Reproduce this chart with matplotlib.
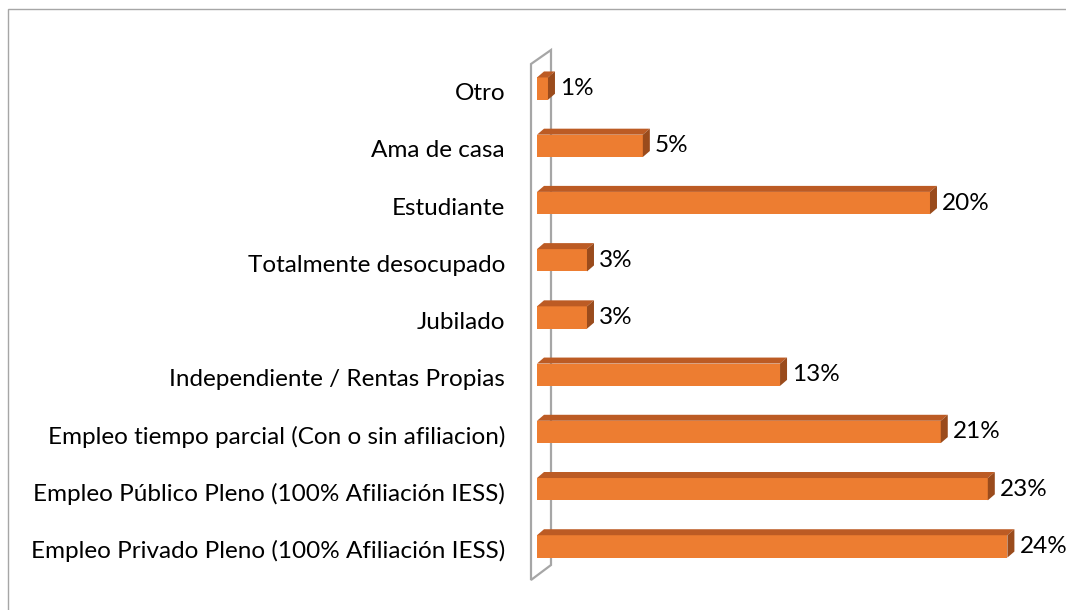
import matplotlib
matplotlib.use("Agg")
import matplotlib.pyplot as plt
from matplotlib.patches import Polygon, Rectangle

# categories from bottom to top
categories = [
    "Empleo Privado Pleno (100% Afiliación IESS)",
    "Empleo Público Pleno (100% Afiliación IESS)",
    "Empleo tiempo parcial (Con o sin afiliacion)",
    "Independiente / Rentas Propias",
    "Jubilado",
    "Totalmente desocupado",
    "Estudiante",
    "Ama de casa",
    "Otro",
]
values = [24.0, 23.0, 20.6, 12.4, 2.55, 2.55, 20.05, 5.4, 0.56]
value_labels = ["24%", "23%", "21%", "13%", "3%", "3%", "20%", "5%", "1%"]

W, H = 1066, 610
fig = plt.figure(figsize=(W / 100, H / 100), dpi=100)
plt.rcParams['font.family'] = ['Lato', 'DejaVu Sans']

# axes placed in pixels
ax_left, ax_right = 537, 1066
ax_bottom, ax_top = 35, 550
ax = fig.add_axes([ax_left / W, ax_bottom / H, (ax_right - ax_left) / W, (ax_top - ax_bottom) / H])
px_per_pct = 19.6
xmax = (ax_right - ax_left) / px_per_pct
ax.set_xlim(0, xmax)
ax.set_ylim(-0.5, len(categories) - 0.5)
ax.axis('off')

px_per_cat = (ax_top - ax_bottom) / len(categories)
dx = 7 / px_per_pct          # depth offset in data units
dy = 6 / px_per_cat
bh = 0.39

front = '#ED7D31'
top_c = '#BC5B24'
side_c = '#9A4B1C'

ys = list(range(len(categories)))
ax.barh(ys, values, height=bh, color=front, edgecolor='none', zorder=3)
for y, v, lab in zip(ys, values, value_labels):
    y0, y1 = y - bh / 2, y + bh / 2
    ax.add_patch(Polygon([(0, y1), (v, y1), (v + dx, y1 + dy), (dx, y1 + dy)],
                         closed=True, facecolor=top_c, edgecolor='none', zorder=3))
    ax.add_patch(Polygon([(v, y0), (v, y1), (v + dx, y1 + dy), (v + dx, y0 + dy)],
                         closed=True, facecolor=side_c, edgecolor='none', zorder=3))
    ax.text(v + dx + 5 / px_per_pct, y, lab, ha='left', va='center',
            fontsize=17.5, color='black', clip_on=False)
    ax.text(-32 / px_per_pct, y - 5 / px_per_cat, categories[y], ha='right', va='center',
            fontsize=17.5, color='black', clip_on=False)

# side wall (outline)
def to_data(px, py_top):
    return ((px - ax_left) / px_per_pct, (H - py_top - ax_bottom) / px_per_cat - 0.5)

wall = [to_data(531, 64), to_data(551, 50), to_data(551, 565), to_data(531, 580)]
ax.add_patch(Polygon(wall, closed=True, facecolor='none', edgecolor='#A6A6A6',
                     linewidth=1.6, zorder=2, clip_on=False))

# chart frame
fig.patches.append(Rectangle((8 / W, -0.05), 1.1, (H - 9) / H + 0.05,
                             transform=fig.transFigure, facecolor='none',
                             edgecolor='#A6A6A6', linewidth=1.0))

fig.savefig('out.png', dpi=100)
